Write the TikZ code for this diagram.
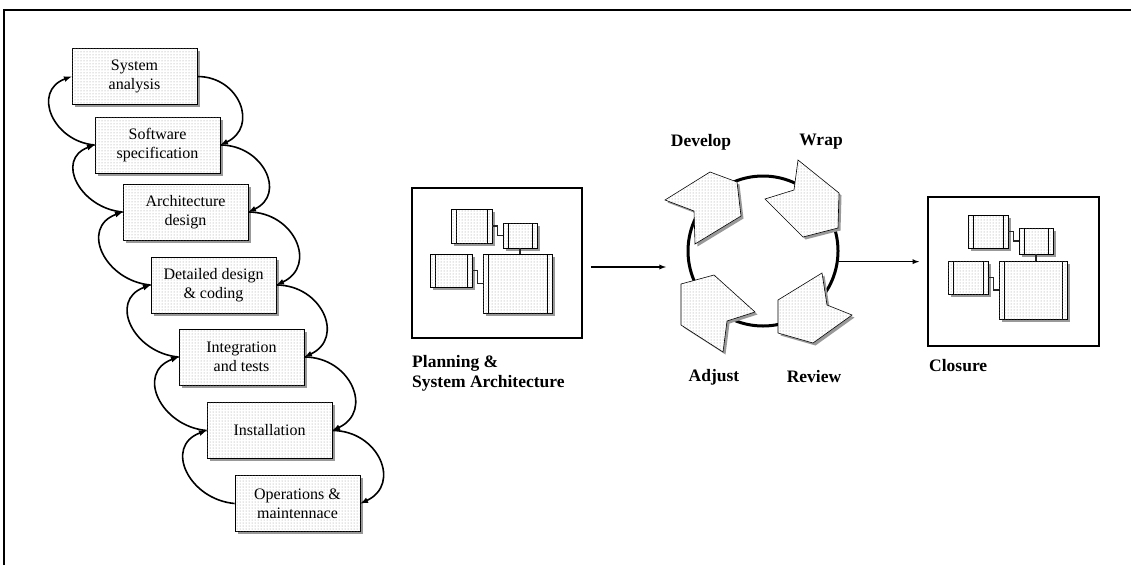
\documentclass[tikz,border=0pt]{standalone}
\usepackage{fontspec}
\setmainfont{Liberation Serif}
\usetikzlibrary{shadows,patterns}

\begin{document}
\begin{tikzpicture}[x=1pt,y=1pt]
    \tikzstyle{every node}+=[inner sep=0pt]
    \tikzstyle{grayshadow}=[drop shadow={opacity=1,fill=gray!80,shadow xshift=2.5pt,shadow yshift=-2.5pt}]
    \tikzstyle{dotfill}=[fill=white,postaction={pattern=dots,pattern color=gray!85}]
    \tikzstyle{phase}=[draw,line width=0.8pt,dotfill,grayshadow,minimum width=125pt,minimum height=56pt,align=center,font=\fontsize{16}{19.5}\selectfont]
    \tikzstyle{loopline}=[line width=1.6pt,-latex,looseness=1.5]
    \tikzstyle{frame}=[draw,line width=1.6pt]
    \tikzstyle{modbox}=[draw,line width=0.8pt,dotfill,grayshadow,path picture={
        \draw ([xshift=5pt]path picture bounding box.north west) -- ([xshift=5pt]path picture bounding box.south west);
        \draw ([xshift=-5pt]path picture bounding box.north east) -- ([xshift=-5pt]path picture bounding box.south east);}]
    \tikzstyle{wire}=[line width=1.3pt,black!85]
    \tikzstyle{chevron}=[draw,line width=0.6pt,dotfill,grayshadow]
    \tikzstyle{lbl}=[font=\fontsize{17.5}{20}\selectfont\bfseries]
    \tikzstyle{flowline}=[line width=1.3pt,-latex]
    \useasboundingbox (0,0) rectangle (1131,-565);
    \draw [line width=2pt] (4,-565) -- (4,-10) -- (1131,-10);
    \node [phase] (sysan) at (134.5,-76.5) {System\\analysis};
    \node [phase] (swspec) at (157.5,-145) {Software\\specification};
    \node [phase] (archd) at (185.5,-212) {Architecture\\design};
    \node [phase] (detd) at (213.5,-285) {Detailed design\\\& coding};
    \node [phase] (integ) at (241.5,-357) {Integration\\and tests};
    \node [phase] (instal) at (269.5,-430.5) {Installation};
    \node [phase] (opmain) at (297.5,-503.5) {Operations \&\\maintennace};
    \draw [loopline] (sysan.east) to[out=0,in=25] (swspec.east);
    \draw [loopline] (swspec.east) to[out=0,in=25] (archd.east);
    \draw [loopline] (archd.east) to[out=0,in=25] (detd.east);
    \draw [loopline] (detd.east) to[out=0,in=25] (integ.east);
    \draw [loopline] (integ.east) to[out=0,in=25] (instal.east);
    \draw [loopline] (instal.east) to[out=0,in=25] (opmain.east);
    \draw [loopline] (swspec.west) to[out=175,in=200] (sysan.west);
    \draw [loopline] (archd.west) to[out=175,in=200] (swspec.west);
    \draw [loopline] (detd.west) to[out=175,in=200] (archd.west);
    \draw [loopline] (integ.west) to[out=175,in=200] (detd.west);
    \draw [loopline] (instal.west) to[out=175,in=200] (integ.west);
    \draw [loopline] (opmain.west) to[out=175,in=200] (instal.west);
    \node [frame,minimum width=170pt,minimum height=150pt] (plan) at (497,-263) {};
    \node [modbox,minimum width=41pt,minimum height=34pt] (planA) at (471.5,-226) {};
    \node [modbox,minimum width=34pt,minimum height=25pt] (planB) at (520,-235.5) {};
    \node [modbox,minimum width=42pt,minimum height=33pt] (planC) at (451,-270.5) {};
    \node [modbox,minimum width=69pt,minimum height=59pt] (planD) at (517.5,-283.5) {};
    \draw [wire] (planA.east) -- ++(5,0) |- (planB.west);
    \draw [wire] (planB.south) -- (planB.south |- planD.north);
    \draw [wire] (planC.east) -- ++(5,0) |- (planD.west);
    \node [lbl,anchor=west,align=left] (planlbl) at (412,-373) {Planning \&\\System Architecture};
    \node [circle,draw,line width=3pt,minimum size=150pt] (ring) at (763,-251) {};
    \draw [chevron] (665,-200) -- (710,-172) -- (737,-182) -- (741,-216) -- (695,-244) -- (694,-211) -- cycle;
    \draw [chevron] (765,-199) -- (794,-190) -- (798,-160) -- (839,-193) -- (838,-228) -- (803,-237) -- cycle;
    \draw [chevron] (778,-300) -- (822,-273) -- (827,-305) -- (852,-315) -- (813,-343) -- (778,-333) -- cycle;
    \draw [chevron] (681,-284) -- (714,-275) -- (755,-312) -- (727,-321) -- (723,-352) -- (681,-325) -- cycle;
    \node [lbl] (develop) at (701,-142) {Develop};
    \node [lbl] (wrap) at (821,-142) {Wrap};
    \node [lbl] (adjust) at (714,-377) {Adjust};
    \node [lbl] (review) at (814,-377) {Review};
    \node [frame,minimum width=171pt,minimum height=149pt] (close) at (1013.5,-271.5) {};
    \node [modbox,minimum width=40pt,minimum height=33pt] (closeA) at (988,-231.5) {};
    \node [modbox,minimum width=34pt,minimum height=26pt] (closeB) at (1036,-241) {};
    \node [modbox,minimum width=40pt,minimum height=33pt] (closeC) at (968,-277.5) {};
    \node [modbox,minimum width=68pt,minimum height=58pt] (closeD) at (1033,-290) {};
    \draw [wire] (closeA.east) -- ++(5,0) |- (closeB.west);
    \draw [wire] (closeB.south) -- (closeB.south |- closeD.north);
    \draw [wire] (closeC.east) -- ++(5,0) |- (closeD.west);
    \node [lbl,anchor=west] (closelbl) at (929,-366) {Closure};
    \coordinate (ringin) at (666,-267);
    \draw [flowline,shorten <=8pt] (plan.east |- ringin) -- (ringin);
    \draw [flowline,shorten >=8pt] (ring.-8) -- (ring.-8 -| close.west);
\end{tikzpicture}
\end{document}
